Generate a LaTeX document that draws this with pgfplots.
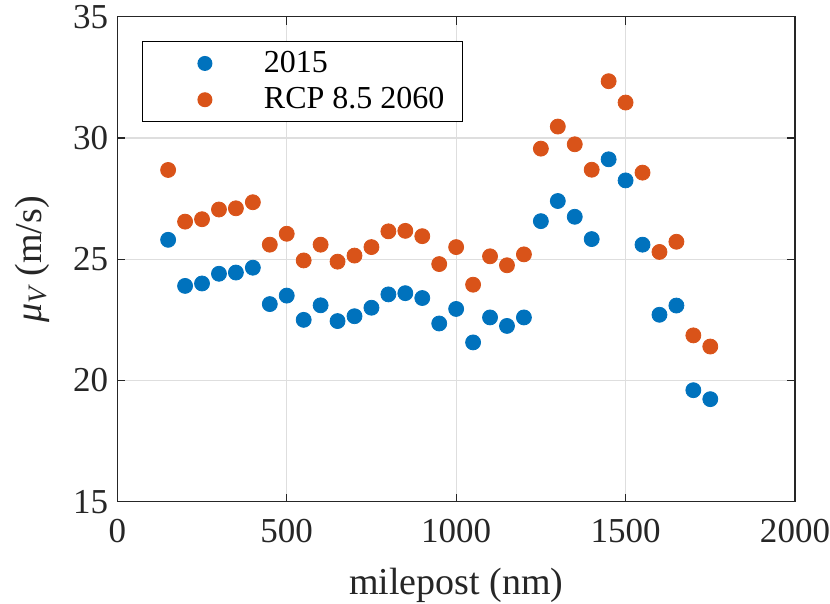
\documentclass[border=0pt]{standalone}
\usepackage{pgfplots}
\pgfplotsset{compat=1.18}
\usepackage{fontspec}
\setmainfont{Liberation Serif}
\definecolor{mblue}{RGB}{0,114,189}
\definecolor{morange}{RGB}{217,83,25}
\definecolor{axgray}{RGB}{38,38,38}
\pgfplotstableread{
x y
150 25.8
200 23.9
250 24.0
300 24.4
350 24.45
400 24.65
450 23.15
500 23.5
550 22.5
600 23.1
650 22.45
700 22.65
750 23.0
800 23.55
850 23.6
900 23.4
950 22.35
1000 22.95
1050 21.57
1100 22.6
1150 22.25
1200 22.6
1250 26.57
1300 27.4
1350 26.75
1400 25.83
1450 29.12
1500 28.25
1550 25.6
1600 22.71
1650 23.09
1700 19.6
1750 19.23
}\tabA
\pgfplotstableread{
x y
150 28.68
200 26.55
250 26.65
300 27.05
350 27.1
400 27.35
450 25.6
500 26.05
550 24.95
600 25.6
650 24.9
700 25.15
750 25.5
800 26.15
850 26.17
900 25.95
950 24.8
1000 25.5
1050 23.95
1100 25.12
1150 24.75
1200 25.2
1250 29.56
1300 30.47
1350 29.74
1400 28.69
1450 32.34
1500 31.46
1550 28.57
1600 25.3
1650 25.72
1700 21.86
1750 21.4
}\tabB
\begin{document}
\begin{tikzpicture}
\useasboundingbox (-58.65pt,-50.65pt) rectangle (356.3pt,250.85pt);
\begin{axis}[
  scale only axis,
  width=338.8pt, height=242.5pt,
  xmin=0, xmax=2000, ymin=15, ymax=35,
  xtick={0,500,1000,1500,2000},
  ytick={15,20,25,30,35},
  tick align=inside,
  major tick length=4pt,
  axis line style={draw=axgray, line width=0.6pt},
  tick style={draw=axgray, line width=0.6pt},
  grid=major,
  grid style={draw=black!13, line width=0.6pt},
  ticklabel style={font=\fontsize{17.5}{20}\selectfont, text=axgray},
  xticklabel style={yshift=-5pt},
  yticklabel style={xshift=-1pt},
  /pgf/number format/assume math mode=true,
  /pgf/number format/1000 sep={},
  xlabel={milepost (nm)},
  ylabel={{\itshape μ}\textsubscript{\itshape V} (m/s)},
  xlabel style={yshift=-6pt},
  ylabel style={yshift=5pt},
  label style={font=\fontsize{19}{22}\selectfont, text=axgray},
  legend style={at={(axis description cs:0.036,0.9505)}, anchor=north west,
    draw=black, line width=0.6pt, inner xsep=0pt, inner ysep=3pt,
    font=\fontsize{16}{18}\selectfont, row sep=2pt,
    nodes={inner xsep=0pt, inner ysep=2pt}},
  legend cell align=left,
  legend image code/.code={
    \path[draw=none, fill=none] (0pt,0pt) rectangle (60.8pt,0.1pt);
    \fill[#1, draw=none] (31.3pt,0pt) circle (3.75pt);
  },
]
\addplot[only marks, mark=*, mark size=3.75pt, color=mblue, mark options={draw=none, fill=mblue}] table[x=x,y=y] {\tabA};
\addlegendentry{2015\kern9pt\null}
\addplot[only marks, mark=*, mark size=3.75pt, color=morange, mark options={draw=none, fill=morange}] table[x=x,y=y] {\tabB};
\addlegendentry{RCP 8.5 2060\kern9pt\null}
\end{axis}
\end{tikzpicture}
\end{document}
